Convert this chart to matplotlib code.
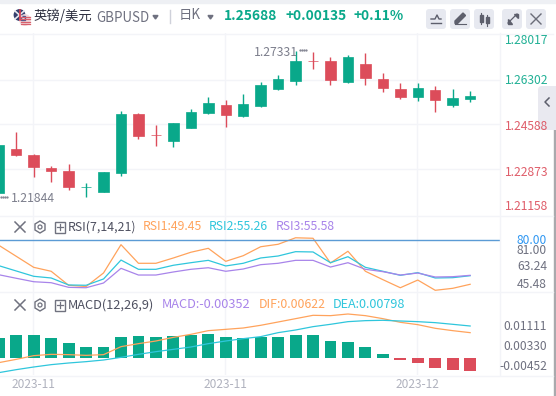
import matplotlib
matplotlib.use('Agg')
from matplotlib import pyplot as plt
from matplotlib.patches import Circle, FancyBboxPatch, Polygon, Rectangle

plt.rcParams['font.family'] = ['Noto Sans CJK SC', 'DejaVu Sans']

opens = [1.21978, 1.23654, 1.23426, 1.22930, 1.22816, 1.22196, 1.22016, 1.22740, 1.24988, 1.24198,
         1.23959, 1.24454, 1.25026, 1.25330, 1.24911, 1.25292, 1.25940, 1.26245, 1.27017, 1.27007,
         1.26207, 1.26893, 1.26321, 1.25940, 1.25635, 1.25902, 1.25330, 1.25559]
closes = [1.23806, 1.23426, 1.22968, 1.22816, 1.22206, 1.22216, 1.22778, 1.24988, 1.24149, 1.24178,
          1.24645, 1.25064, 1.25407, 1.24949, 1.25369, 1.26092, 1.26321, 1.27007, 1.26997, 1.26283,
          1.27160, 1.26359, 1.25978, 1.25635, 1.25978, 1.25521, 1.25597, 1.25688]
highs = [1.24340, 1.24302, 1.23464, 1.23007, 1.23083, 1.22359, 1.22778, 1.25102, 1.25026, 1.24569,
         1.24645, 1.25178, 1.25635, 1.25521, 1.25750, 1.26207, 1.26473, 1.27388, 1.27331, 1.27160,
         1.27236, 1.27312, 1.26550, 1.26169, 1.26169, 1.26055, 1.25940, 1.25864]
lows = [1.21978, 1.23387, 1.22587, 1.22397, 1.22092, 1.21844, 1.22016, 1.22625, 1.24035, 1.23769,
        1.23730, 1.24454, 1.24988, 1.24492, 1.24873, 1.25254, 1.25902, 1.26092, 1.26702, 1.26092,
        1.26169, 1.26092, 1.25826, 1.25559, 1.25483, 1.25064, 1.25254, 1.25445]

rsi1 = [85.3, 74.1, 62.9, 58.9, 44.7, 43.4, 57.2, 85.9, 67.0, 67.0, 72.4, 78.2, 82.2, 69.0,
        74.7, 83.8, 86.3, 92.9, 92.4, 67.3, 79.2, 58.9, 50.4, 42.2, 50.0, 39.6, 41.6, 45.7]
rsi2 = [64.6, 59.2, 53.8, 52.1, 45.0, 44.7, 51.1, 70.3, 60.9, 60.9, 65.0, 67.6, 70.0, 64.3,
        67.0, 72.4, 74.4, 78.8, 78.5, 67.6, 73.7, 62.9, 58.9, 54.8, 57.5, 52.1, 52.4, 54.4]
rsi3 = [55.4, 51.8, 48.3, 47.3, 42.6, 42.2, 47.0, 61.9, 55.1, 55.1, 58.2, 60.9, 62.5, 58.9,
        61.2, 65.6, 67.0, 70.0, 70.0, 63.2, 67.6, 60.9, 58.5, 55.1, 57.1, 53.1, 53.4, 54.8]
rsi_line = 90.9

macd = [0.00520, 0.00598, 0.00598, 0.00520, 0.00390, 0.00286, 0.00286, 0.00546, 0.00572, 0.00546,
        0.00572, 0.00598, 0.00624, 0.00546, 0.00528, 0.00554, 0.00546, 0.00598, 0.00598, 0.00442,
        0.00416, 0.00286, 0.00104, -0.00052, -0.00130, -0.00260, -0.00312, -0.00338]
dif = [-0.00121, -0.00035, 0.00061, 0.00095, 0.00087, 0.00069, 0.00087, 0.00295, 0.00373, 0.00442,
       0.00537, 0.00615, 0.00711, 0.00745, 0.00780, 0.00850, 0.00936, 0.01023, 0.01110, 0.01101,
       0.01144, 0.01101, 0.01023, 0.00928, 0.00867, 0.00772, 0.00711, 0.00659]
dea = [-0.00381, -0.00303, -0.00234, -0.00173, -0.00130, -0.00095, -0.00052, 0.00017, 0.00095, 0.00165,
       0.00225, 0.00286, 0.00373, 0.00442, 0.00503, 0.00555, 0.00659, 0.00728, 0.00815, 0.00876,
       0.00945, 0.00971, 0.00980, 0.00962, 0.00945, 0.00919, 0.00876, 0.00832]

price_grid = [1.26302, 1.24588, 1.22873]
date_ticks = [1.98, 12.98, 23.98]
date_labels = ['2023-11', '2023-11', '2023-12']
price_labels = ['1.28017', '1.26302', '1.24588', '1.22873', '1.21158']
rsi_labels = ['81.00', '63.24', '45.48']
macd_labels = ['0.01111', '0.00330', '-0.00452']

GREEN = '#09a88a'
RED = '#dc4c5a'
ORANGE = '#ffa35c'
CYAN = '#2fc6dc'
PURPLE = '#a884ea'
GRID = '#f3f4f8'
GREY = '#6f7180'
W, H = 556, 396


def make_axes(fig, top, bottom, ylim):
    ax = fig.add_axes([0, 1 - bottom / H, 500 / W, (bottom - top) / H])
    ax.set_xlim(0.069, 28.71)
    ax.set_ylim(*ylim)
    ax.set_xticks([])
    ax.set_yticks([])
    for s in ax.spines.values():
        s.set_visible(False)
    for t in date_ticks:
        ax.axvline(t, color=GRID, linewidth=1, zorder=0)
    return ax


def draw_close_icon(ui, x, y, r=5, color='#70727f', lw=1.1):
    ui.plot([x - r, x + r], [y - r, y + r], color=color, linewidth=lw)
    ui.plot([x - r, x + r], [y + r, y - r], color=color, linewidth=lw)


def draw_indicator_icons(ui, y):
    draw_close_icon(ui, 20, y)
    ui.add_patch(Polygon([(40, y - 6), (45, y - 3), (45, y + 3), (40, y + 6), (35, y + 3), (35, y - 3)],
                         fill=False, edgecolor='#70727f', linewidth=1))
    ui.add_patch(Circle((40, y), 2, fill=False, edgecolor='#70727f', linewidth=0.9))
    ui.add_patch(Rectangle((54.5, y - 5), 10.5, 10.5, fill=False, edgecolor='#70727f', linewidth=1))
    ui.plot([57, 62.5], [y + 0.2, y + 0.2], color='#70727f', linewidth=0.9)
    ui.plot([59.8, 59.8], [y - 2.6, y + 3], color='#70727f', linewidth=0.9)


fig = plt.figure(figsize=(W / 100, H / 100), dpi=100, facecolor='white')
xs = list(range(len(closes)))

# candles
ax = make_axes(fig, 33, 216, (1.21101, 1.28074))
for g in price_grid:
    ax.axhline(g, color=GRID, linewidth=1, zorder=0)
for i in xs:
    c = GREEN if closes[i] >= opens[i] else RED
    ax.vlines(i, lows[i], highs[i], color=c, linewidth=1, zorder=2)
    ax.bar(i, abs(closes[i] - opens[i]), bottom=min(opens[i], closes[i]), width=0.6,
           color=c, edgecolor=c, linewidth=0.5, zorder=3)

# rsi
ax2 = make_axes(fig, 216, 292, (37.87, 115.0))
ax2.plot(xs, rsi1, color=ORANGE, linewidth=0.9)
ax2.plot(xs, rsi2, color=CYAN, linewidth=0.9)
ax2.plot(xs, rsi3, color=PURPLE, linewidth=0.9)
ax2.axhline(rsi_line, color='#5b9bd5', linewidth=1, zorder=4)

# macd
ax3 = make_axes(fig, 292, 375, (-0.00442, 0.01716))
ax3.bar(xs, macd, width=0.68, color=[GREEN if v >= 0 else RED for v in macd], zorder=2)
ax3.plot(xs, dif, color=ORANGE, linewidth=0.9, zorder=3)
ax3.plot(xs, dea, color=CYAN, linewidth=0.9, zorder=3)

# everything around the plots is laid out in screen pixels
ui = fig.add_axes([0, 0, 1, 1], facecolor='none')
ui.set_xlim(0, W)
ui.set_ylim(H, 0)
ui.axis('off')

ui.add_patch(Rectangle((0, 0), W, 3, color='#eef0f4', zorder=0))
ui.add_patch(Rectangle((553.5, 128), 2.5, H, color='#a9a9ad', zorder=0))
for y in [33.5, 216, 292, 375.5]:
    ui.plot([0, 553], [y, y], color=GRID, linewidth=1, zorder=0)
ui.plot([500.3, 500.3], [33, 375], color=GRID, linewidth=1, zorder=0)

# flags
ui.add_patch(Circle((19.5, 15), 5.2, color='#34406e'))
ui.plot([15, 24], [11, 19], color='#e8e8ee', linewidth=1.2)
ui.plot([15, 24], [19, 11], color='#e8e8ee', linewidth=1.2)
ui.plot([19.5, 19.5], [10, 20], color='#d8394a', linewidth=1.2)
ui.add_patch(Circle((25, 20), 5.2, color='#f1d9dc'))
for y in [16.5, 19, 21.5, 24]:
    ui.plot([21, 29.5], [y, y], color='#d8606c', linewidth=0.9)
ui.add_patch(Rectangle((20.5, 15.5), 4, 4, color='#4a5590'))

ui.text(34, 16, '英镑/美元', fontsize=9.6, color='#2e3040', va='center')
ui.text(96, 17.5, 'GBPUSD', fontsize=9.6, color=GREY, va='center')
ui.add_patch(Polygon([(153, 15.5), (158, 15.5), (155.5, 19)], color=GREY))
ui.plot([169.5, 169.5], [10, 23], color='#cfd1da', linewidth=1)
ui.text(179, 15.5, '日K', fontsize=9.6, color=GREY, va='center')
ui.add_patch(Polygon([(208, 15.5), (213, 15.5), (210.5, 19)], color=GREY))
ui.text(224, 16, '1.25688', fontsize=9.9, color=GREEN, va='center', fontweight='bold')
ui.text(285, 16, '+0.00135', fontsize=9.9, color=GREEN, va='center', fontweight='bold')
ui.text(354, 16, '+0.11%', fontsize=9.9, color=GREEN, va='center', fontweight='bold')

# toolbar buttons
for bx in [426, 450, 474, 502, 526]:
    ui.add_patch(FancyBboxPatch((bx + 2, 11), 16, 16, boxstyle='round,pad=2,rounding_size=3',
                                facecolor='#e7e9f0', edgecolor='none'))
ui.plot([431, 435, 437, 439, 441], [19, 19, 15, 19, 19], color='#5d5f6c', linewidth=1)
ui.plot([431, 441], [23, 23], color='#5d5f6c', linewidth=1)
ui.add_patch(Polygon([(455, 21), (463, 13), (465.5, 15.5), (457.5, 23.5), (455, 23.5)], color='#5d5f6c'))
ui.plot([466, 455], [24, 24], color='#5d5f6c', linewidth=0.8)
ui.add_patch(Rectangle((479.5, 15), 3.5, 7, color='#5d5f6c'))
ui.add_patch(Rectangle((485.5, 17), 3.5, 6, color='#5d5f6c'))
ui.plot([481.2, 481.2], [13, 24], color='#5d5f6c', linewidth=0.8)
ui.plot([487.2, 487.2], [15, 26], color='#5d5f6c', linewidth=0.8)
ui.plot([508, 517], [23, 14], color='#5d5f6c', linewidth=0.9)
ui.add_patch(Polygon([(513.5, 14), (517.5, 14), (517.5, 18)], color='#5d5f6c'))
ui.add_patch(Polygon([(508, 19), (508, 23.5), (512, 23.5)], color='#5d5f6c'))
draw_close_icon(ui, 536, 19, r=5, color='#6a6c78', lw=1)

# collapse handle
ui.add_patch(FancyBboxPatch((538, 86), 24, 44, boxstyle='round,pad=0,rounding_size=4',
                            facecolor='#e9e9f0', edgecolor='none', clip_on=True))
ui.plot([549, 545, 549], [98, 102, 106], color='#5d5f6c', linewidth=1.1)

# price axis
label_ys = [41, 80, 126, 172, 206]
label_cols = [GREEN, GREEN, RED, RED, RED]
for y, s, c in zip(label_ys, price_labels, label_cols):
    ui.text(548, y, s, fontsize=8.7, color=c, ha='right', va='center', alpha=0.9)

ui.text(254, 52, '1.27331', fontsize=8.8, color='#7c7e8c', va='center')
ui.plot([300, 302, 304, 306], [50, 50, 50, 50], linestyle='none', marker='.', markersize=1.2, color='#7c7e8c')
ui.plot([1, 3, 5, 7], [197, 197, 197, 197], linestyle='none', marker='.', markersize=1.2, color='#7c7e8c')
ui.text(11, 199, '1.21844', fontsize=8.8, color='#7c7e8c', va='center')

# rsi header and axis
draw_indicator_icons(ui, 227)
ui.text(68, 227, 'RSI(7,14,21)', fontsize=8.9, color='#4e5060', va='center')
ui.text(143, 227, 'RSI1:49.45', fontsize=8.8, color=ORANGE, va='center')
ui.text(209, 227, 'RSI2:55.26', fontsize=8.8, color=CYAN, va='center')
ui.text(276, 227, 'RSI3:55.58', fontsize=8.8, color=PURPLE, va='center')
ui.text(547, 240, '80.00', fontsize=8.7, color='#2f97f2', ha='right', va='center')
for y, s in zip([250, 267, 285], rsi_labels):
    ui.text(547, y, s, fontsize=8.7, color=GREY, ha='right', va='center')

# macd header and axis
draw_indicator_icons(ui, 305)
ui.text(68, 305, 'MACD(12,26,9)', fontsize=9.2, color='#4e5060', va='center')
ui.text(162, 305, 'MACD:-0.00352', fontsize=9.2, color=PURPLE, va='center')
ui.text(259, 305, 'DIF:0.00622', fontsize=8.9, color=ORANGE, va='center')
ui.text(333, 305, 'DEA:0.00798', fontsize=9.1, color=CYAN, va='center')
for y, s in zip([327, 347, 367], macd_labels):
    ui.text(547, y, s, fontsize=8.7, color=GREY, ha='right', va='center')

# date labels follow the candle axis
for t, s in zip(date_ticks, date_labels):
    px = (t - 0.069) / (28.71 - 0.069) * 500
    ui.text(px, 384, s, fontsize=8.6, color='#b0b2be', ha='center', va='center')

fig.savefig('out.png', dpi=100)
